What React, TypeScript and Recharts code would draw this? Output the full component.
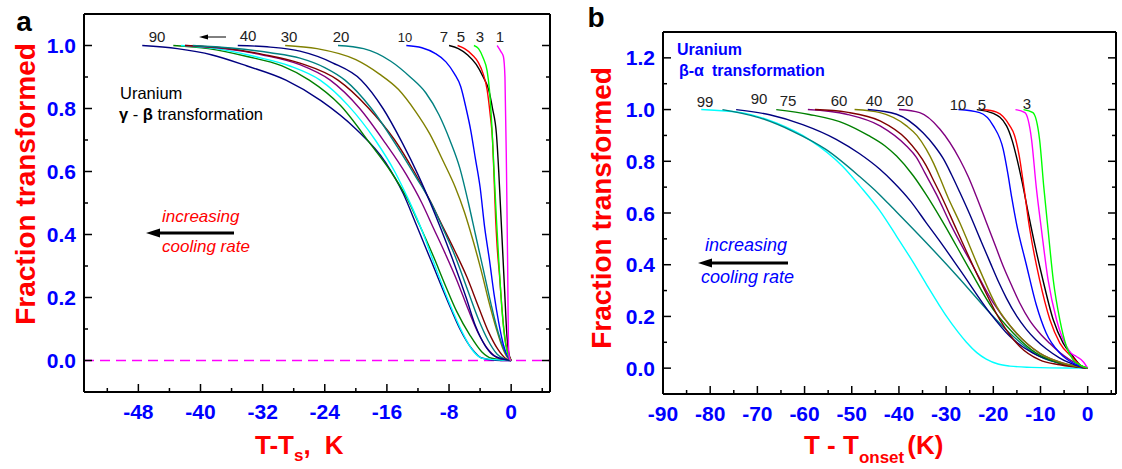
import React from 'react';
import { LineChart, Line, XAxis, YAxis, ReferenceLine } from 'recharts';

type P = [number, number];

// ---------------- Panel a : gamma -> beta ----------------
const aXTicks = [-52, -48, -44, -40, -36, -32, -28, -24, -20, -16, -12, -8, -4, 0, 4];
const aXLabels = [-48, -40, -32, -24, -16, -8, 0];
const aYTicks = [0, 0.1, 0.2, 0.3, 0.4, 0.5, 0.6, 0.7, 0.8, 0.9, 1.0];
const aYLabels = [0, 0.2, 0.4, 0.6, 0.8, 1.0];

const aNavy90: P[] = [[-47.5,1],[-43,0.99],[-38.5,0.97],[-34,0.935],[-29,0.89],[-24.5,0.825],[-20,0.735],[-16.2,0.63],[-13.9,0.53],[-12.2,0.43],[-10.2,0.31],[-8.2,0.19],[-6.6,0.1],[-5,0.035],[-3.8,0.008],[-2,0.001],[0,0]];
const aGreen: P[] = [[-43.5,1],[-39,0.99],[-34,0.965],[-29.5,0.935],[-26,0.89],[-22,0.81],[-18.2,0.69],[-15.5,0.6],[-13.3,0.51],[-11.8,0.43],[-10,0.33],[-8.5,0.24],[-7,0.155],[-5.3,0.08],[-3.8,0.028],[-2.5,0.007],[0,0]];
const aCyan: P[] = [[-42.5,1],[-38,0.99],[-33,0.965],[-28.5,0.935],[-24.6,0.89],[-21,0.81],[-17.5,0.7],[-15,0.6],[-13.2,0.51],[-11.6,0.42],[-9.8,0.3],[-8,0.185],[-6.4,0.095],[-4.9,0.03],[-3.6,0.006],[0,0]];
const aPurple: P[] = [[-42,1],[-37,0.99],[-32,0.97],[-27.2,0.939],[-23.3,0.89],[-19.5,0.8],[-16.2,0.69],[-13.5,0.59],[-11.5,0.5],[-10,0.42],[-8.5,0.34],[-7,0.255],[-5.5,0.16],[-4.2,0.085],[-2.8,0.03],[-1.5,0.006],[0,0]];
const aMaroon: P[] = [[-42,1],[-37,0.992],[-32,0.972],[-27.2,0.944],[-22.3,0.89],[-18.5,0.805],[-15,0.7],[-12.5,0.6],[-10.5,0.51],[-9,0.435],[-7.3,0.35],[-5.7,0.265],[-4.2,0.17],[-2.9,0.09],[-1.7,0.035],[-0.8,0.008],[0,0]];
const aTeal: P[] = [[-41,1],[-36,0.992],[-31,0.977],[-27.2,0.96],[-24,0.93],[-21.4,0.89],[-18,0.8],[-14.7,0.68],[-12.2,0.58],[-10.3,0.5],[-8.8,0.42],[-7.2,0.33],[-5.7,0.23],[-4.2,0.13],[-3,0.065],[-1.8,0.02],[-0.8,0.004],[0,0]];
const aNavy40: P[] = [[-35.2,1],[-31,0.995],[-27.2,0.982],[-23,0.945],[-19.3,0.89],[-16.5,0.8],[-14,0.69],[-12,0.59],[-10.4,0.5],[-9,0.415],[-7.3,0.305],[-5.8,0.2],[-4.6,0.11],[-3.3,0.045],[-2,0.012],[0,0]];
const aOlive30: P[] = [[-29.1,1],[-25,0.99],[-20,0.955],[-17,0.91],[-14.5,0.86],[-12.3,0.79],[-10.5,0.72],[-8.7,0.63],[-7.2,0.55],[-6,0.47],[-4.9,0.38],[-3.8,0.28],[-2.8,0.18],[-1.9,0.1],[-1.1,0.04],[-0.5,0.01],[0,0]];
const aTeal20: P[] = [[-22.3,1],[-19,0.99],[-15.5,0.95],[-13,0.9],[-11,0.85],[-9.3,0.78],[-7.9,0.7],[-6.6,0.61],[-5.5,0.5],[-4.6,0.4],[-3.6,0.29],[-2.6,0.18],[-1.8,0.1],[-1,0.04],[-0.4,0.01],[0,0]];
const aBlue10: P[] = [[-13.5,1],[-11.5,0.993],[-9.8,0.975],[-8.4,0.948],[-7.3,0.91],[-6.5,0.87],[-5.8,0.8],[-5.2,0.73],[-4.6,0.64],[-4,0.55],[-3.4,0.42],[-2.8,0.32],[-2.2,0.21],[-1.6,0.12],[-1,0.05],[-0.5,0.015],[0,0]];
const aBlack7: P[] = [[-8,1],[-6.8,0.99],[-5.6,0.97],[-4.5,0.94],[-3.6,0.9],[-2.9,0.86],[-2.4,0.8],[-1.9,0.72],[-1.6,0.6],[-1.4,0.5],[-1.2,0.4],[-1,0.3],[-0.8,0.2],[-0.6,0.1],[-0.35,0.03],[0,0]];
const aRed5: P[] = [[-6.9,1],[-6,0.99],[-5,0.97],[-4.2,0.945],[-3.6,0.91],[-3.1,0.86],[-2.7,0.78],[-2.4,0.7],[-2.2,0.58],[-2,0.45],[-1.8,0.36],[-1.5,0.27],[-1.2,0.17],[-0.9,0.09],[-0.5,0.03],[0,0]];
const aLime3: P[] = [[-4.8,1],[-4.2,0.99],[-3.6,0.96],[-3.1,0.92],[-2.8,0.86],[-2.5,0.75],[-2.2,0.6],[-1.9,0.45],[-1.6,0.32],[-1.3,0.2],[-1,0.11],[-0.7,0.05],[-0.35,0.015],[0,0]];
const aMagenta1: P[] = [[-1.8,1],[-1.3,0.98],[-1,0.965],[-0.8,0.9],[-0.6,0.6],[-0.45,0.3],[-0.35,0.05],[-0.2,0.005],[0,0]];

const aSeries: { color: string; pts: P[] }[] = [
  { color: '#000080', pts: aNavy90 },
  { color: '#008000', pts: aGreen },
  { color: '#00FFFF', pts: aCyan },
  { color: '#800080', pts: aPurple },
  { color: '#800000', pts: aMaroon },
  { color: '#008080', pts: aTeal },
  { color: '#000080', pts: aNavy40 },
  { color: '#808000', pts: aOlive30 },
  { color: '#008080', pts: aTeal20 },
  { color: '#0000FF', pts: aBlue10 },
  { color: '#000000', pts: aBlack7 },
  { color: '#FF0000', pts: aRed5 },
  { color: '#00FF00', pts: aLime3 },
  { color: '#FF00FF', pts: aMagenta1 },
];

// ---------------- Panel b : beta -> alpha ----------------
const bXTicks = [-85, -80, -75, -70, -65, -60, -55, -50, -45, -40, -35, -30, -25, -20, -15, -10, -5, 0, 5];
const bXLabels = [-90, -80, -70, -60, -50, -40, -30, -20, -10, 0];
const bYTicks = [0, 0.1, 0.2, 0.3, 0.4, 0.5, 0.6, 0.7, 0.8, 0.9, 1.0, 1.1, 1.2];
const bYLabels = [0, 0.2, 0.4, 0.6, 0.8, 1.0, 1.2];

const bCyan99: P[] = [[-81.9,1],[-73.1,0.987],[-66,0.948],[-59,0.884],[-51.9,0.78],[-48.3,0.705],[-44.1,0.61],[-40.5,0.51],[-37,0.41],[-34.2,0.325],[-31.5,0.245],[-29.9,0.2],[-27.5,0.14],[-25.7,0.1],[-23.5,0.06],[-21.5,0.035],[-19,0.016],[-16.5,0.008],[-12,0.003],[-8,0.001],[0,0]];
const bTeal: P[] = [[-77.4,1],[-69.5,0.968],[-62.5,0.916],[-55.4,0.845],[-48.4,0.742],[-44.1,0.671],[-41.2,0.617],[-34.2,0.485],[-27.1,0.345],[-20.7,0.213],[-15.8,0.123],[-10.2,0.045],[-4.5,0.013],[0,0]];
const bNavy90: P[] = [[-74.5,1],[-67.4,0.98],[-60.4,0.942],[-53.3,0.885],[-48.4,0.83],[-44.1,0.77],[-41.2,0.72],[-37.5,0.645],[-34.2,0.562],[-31.5,0.495],[-27.1,0.381],[-20.7,0.213],[-16.5,0.123],[-11.6,0.058],[-5.9,0.019],[0,0]];
const bGreen75: P[] = [[-66,1],[-59,0.981],[-51.5,0.946],[-46.5,0.9],[-43,0.86],[-40.5,0.82],[-37,0.745],[-34.2,0.67],[-30.6,0.562],[-25,0.381],[-20,0.226],[-15.8,0.136],[-10.9,0.058],[-5.9,0.019],[0,0]];
const bPurple60: P[] = [[-59.3,1],[-51.1,0.982],[-44,0.937],[-38.4,0.859],[-36.3,0.815],[-34.5,0.755],[-32,0.67],[-29.2,0.562],[-24.3,0.394],[-20,0.252],[-15.8,0.149],[-10.2,0.058],[-5.2,0.019],[0,0]];
const bMaroon: P[] = [[-57.8,1],[-51.1,0.99],[-44,0.956],[-38.4,0.885],[-34.2,0.782],[-32.5,0.72],[-31,0.665],[-27.8,0.536],[-22.9,0.342],[-18.6,0.187],[-14.4,0.084],[-10.2,0.032],[-5.9,0.013],[0,0]];
const bOlive40: P[] = [[-49.4,1],[-44,0.988],[-38.4,0.937],[-36.2,0.9],[-34.2,0.846],[-32.6,0.79],[-31.3,0.735],[-29.6,0.66],[-27.1,0.562],[-22.9,0.381],[-19.3,0.239],[-15.1,0.136],[-10.2,0.058],[-5.2,0.019],[0,0]];
const bNavy: P[] = [[-46.6,1],[-40.5,0.982],[-34.9,0.91],[-32.5,0.86],[-30.6,0.81],[-28.9,0.75],[-27.1,0.68],[-25,0.595],[-22.8,0.5],[-20.7,0.41],[-18.8,0.33],[-17.2,0.27],[-15,0.2],[-13,0.15],[-11,0.11],[-8.8,0.075],[-6,0.04],[-3.8,0.02],[-1.5,0.005],[0,0]];
const bPurple20: P[] = [[-40,1],[-35.6,0.988],[-31.3,0.924],[-27.1,0.807],[-25.3,0.74],[-23.5,0.66],[-21.5,0.565],[-19.5,0.47],[-17.9,0.394],[-16,0.315],[-14.4,0.252],[-12.3,0.185],[-10.2,0.136],[-8,0.095],[-5.9,0.06],[-4,0.035],[-2.4,0.019],[-1,0.006],[0,0]];
const bBlue10: P[] = [[-27.4,1],[-22.9,0.988],[-20,0.937],[-17.9,0.846],[-16.9,0.75],[-16.1,0.66],[-15.1,0.56],[-13,0.4],[-10.9,0.245],[-8.8,0.136],[-5.9,0.058],[-3.1,0.019],[0,0]];
const bBlack: P[] = [[-23.5,1],[-20,0.985],[-17.2,0.937],[-16,0.88],[-15,0.81],[-13.9,0.72],[-12.6,0.6],[-11,0.46],[-9.5,0.342],[-7.3,0.187],[-5.2,0.097],[-3.1,0.045],[-1.5,0.01],[0,0]];
const bRed5: P[] = [[-22.3,1],[-19.3,0.99],[-16.5,0.937],[-15.5,0.9],[-14.5,0.82],[-13.6,0.71],[-12.3,0.54],[-10.2,0.342],[-8,0.187],[-5.9,0.097],[-3.1,0.039],[-1.5,0.01],[0,0]];
const bMagenta: P[] = [[-15.3,1],[-13.3,0.988],[-11.9,0.885],[-10.9,0.7],[-9.8,0.536],[-8.4,0.342],[-6.6,0.187],[-4.5,0.084],[-3.5,0.058],[-2.4,0.045],[-1,0.026],[0,0]];
const bLime3: P[] = [[-13.6,1],[-11.6,0.988],[-10.2,0.885],[-9.3,0.7],[-8.4,0.536],[-7.3,0.342],[-5.9,0.187],[-4.5,0.084],[-3.1,0.032],[-1.7,0.013],[0,0]];

const bSeries: { color: string; pts: P[] }[] = [
  { color: '#00FFFF', pts: bCyan99 },
  { color: '#008080', pts: bTeal },
  { color: '#000080', pts: bNavy90 },
  { color: '#008000', pts: bGreen75 },
  { color: '#800080', pts: bPurple60 },
  { color: '#800000', pts: bMaroon },
  { color: '#808000', pts: bOlive40 },
  { color: '#000080', pts: bNavy },
  { color: '#800080', pts: bPurple20 },
  { color: '#0000FF', pts: bBlue10 },
  { color: '#000000', pts: bBlack },
  { color: '#FF0000', pts: bRed5 },
  { color: '#FF00FF', pts: bMagenta },
  { color: '#00FF00', pts: bLime3 },
];

// cooling-rate annotations (text labels)
const aRateLabels: { t: string; x: number; y: number; fs: number }[] = [
  { t: '90', x: 157, y: 36, fs: 15 },
  { t: '40', x: 248, y: 35, fs: 15 },
  { t: '30', x: 289, y: 36, fs: 15 },
  { t: '20', x: 341, y: 36, fs: 15 },
  { t: '10', x: 405, y: 37, fs: 13 },
  { t: '7', x: 444, y: 36, fs: 15 },
  { t: '5', x: 461, y: 36, fs: 15 },
  { t: '3', x: 480, y: 36, fs: 15 },
  { t: '1', x: 500, y: 36, fs: 15 },
];
const bRateLabels: { t: string; x: number; y: number; fs: number }[] = [
  { t: '99', x: 705, y: 101, fs: 15 },
  { t: '90', x: 759, y: 98, fs: 15 },
  { t: '75', x: 788, y: 100, fs: 15 },
  { t: '60', x: 839, y: 100, fs: 15 },
  { t: '40', x: 874, y: 100, fs: 15 },
  { t: '20', x: 905, y: 100, fs: 15 },
  { t: '10', x: 958, y: 104, fs: 15 },
  { t: '5', x: 982, y: 104, fs: 15 },
  { t: '3', x: 1027, y: 103, fs: 15 },
];

const FONT = '"Liberation Sans", Arial, Helvetica, sans-serif';
const TICKBLUE = '#0000FF';

const toData = (pts: P[]) => pts.map(([x, y]) => ({ x, y }));
const isIn = (arr: number[], v: number) => arr.some((a) => Math.abs(a - v) < 1e-6);

const bottomTick = (labels: number[]) => (props: any) => {
  const { x, y, payload } = props;
  const v = payload.value;
  const major = isIn(labels, v);
  return (
    <g>
      <line x1={x} x2={x} y1={y} y2={y - (major ? 8 : 4)} stroke="#000" strokeWidth={1.5} />
      {major && (
        <text x={x} y={y + 19} textAnchor="middle" dominantBaseline="central" fill={TICKBLUE} fontFamily={FONT} fontWeight="bold" fontSize={21}>
          {String(v)}
        </text>
      )}
    </g>
  );
};
const topTick = (labels: number[]) => (props: any) => {
  const { x, y, payload } = props;
  const major = isIn(labels, payload.value);
  return <line x1={x} x2={x} y1={y} y2={y + (major ? 8 : 4)} stroke="#000" strokeWidth={1.5} />;
};
const leftTick = (labels: number[]) => (props: any) => {
  const { x, y, payload } = props;
  const v = payload.value;
  const major = isIn(labels, v);
  return (
    <g>
      <line x1={x} x2={x + (major ? 8 : 4)} y1={y} y2={y} stroke="#000" strokeWidth={1.5} />
      {major && (
        <text x={x - 8} y={y} textAnchor="end" dominantBaseline="central" fill={TICKBLUE} fontFamily={FONT} fontWeight="bold" fontSize={21}>
          {v.toFixed(1)}
        </text>
      )}
    </g>
  );
};
const rightTick = (labels: number[]) => (props: any) => {
  const { x, y, payload } = props;
  const major = isIn(labels, payload.value);
  return <line x1={x} x2={x - (major ? 8 : 4)} y1={y} y2={y} stroke="#000" strokeWidth={1.5} />;
};

const axisLine = { stroke: '#000', strokeWidth: 2 };

function Panel(props: {
  width: number;
  margin: any;
  leftW: number;
  rightW: number;
  bottomH: number;
  xDomain: [number, number];
  yDomain: [number, number];
  xTicks: number[];
  xLabels: number[];
  yTicks: number[];
  yLabels: number[];
  series: { color: string; pts: P[] }[];
  zeroLine?: boolean;
}) {
  const { width, margin, leftW, rightW, bottomH, xDomain, yDomain, xTicks, xLabels, yTicks, yLabels, series, zeroLine } = props;
  const allX = Array.from(new Set([...xTicks, ...xLabels])).sort((a, b) => a - b);
  return (
    <LineChart width={width} height={469} margin={margin}>
      <XAxis xAxisId={0} dataKey="x" type="number" domain={xDomain} allowDataOverflow ticks={allX} interval={0}
        tickSize={0} tickMargin={0} tickLine={false} axisLine={axisLine} height={bottomH} tick={bottomTick(xLabels)} />
      <XAxis xAxisId="top" orientation="top" type="number" domain={xDomain} allowDataOverflow ticks={allX} interval={0}
        tickSize={0} tickMargin={0} tickLine={false} axisLine={axisLine} height={1} tick={topTick(xLabels)} />
      <YAxis yAxisId={0} type="number" domain={yDomain} allowDataOverflow ticks={yTicks} interval={0}
        tickSize={0} tickMargin={0} tickLine={false} axisLine={axisLine} width={leftW} tick={leftTick(yLabels)} />
      <YAxis yAxisId="right" orientation="right" type="number" domain={yDomain} allowDataOverflow ticks={yTicks} interval={0}
        tickSize={0} tickMargin={0} tickLine={false} axisLine={axisLine} width={rightW} tick={rightTick(yLabels)} />
      {zeroLine && <ReferenceLine y={0} stroke="#FF00FF" strokeWidth={1.5} strokeDasharray="10 6" />}
      {series.map((s, i) => (
        <Line key={i} data={toData(s.pts)} dataKey="y" type="monotone" stroke={s.color} strokeWidth={1.4}
          dot={false} isAnimationActive={false} />
      ))}
    </LineChart>
  );
}

function Overlay() {
  const red = '#FF0000';
  return (
    <svg width={1122} height={469} style={{ position: 'absolute', left: 0, top: 0, pointerEvents: 'none' }}>
      <text x={24} y={21} textAnchor="middle" dominantBaseline="central" fontFamily={FONT} fontWeight="bold" fontSize={28} fill="#000">a</text>
      <text x={596} y={17} textAnchor="middle" dominantBaseline="central" fontFamily={FONT} fontWeight="bold" fontSize={28} fill="#000">b</text>

      <text transform="translate(25,184) rotate(-90)" textAnchor="middle" dominantBaseline="central" fontFamily={FONT} fontWeight="bold" fontSize={28} fill={red}>Fraction transformed</text>
      <text transform="translate(601,208) rotate(-90)" textAnchor="middle" dominantBaseline="central" fontFamily={FONT} fontWeight="bold" fontSize={28} fill={red}>Fraction transformed</text>
      <text x={255} y={454} fontFamily={FONT} fontWeight="bold" fontSize={26} fill={red}>
        T-T<tspan dy={7} fontSize={17}>s</tspan><tspan dy={-7}>,</tspan><tspan dx={14}>K</tspan>
      </text>
      <text x={804} y={454} fontFamily={FONT} fontWeight="bold" fontSize={26} fill={red}>
        T - T<tspan dy={9} fontSize={17}>onset</tspan><tspan dy={-9} dx={3}>(K)</tspan>
      </text>

      {aRateLabels.map((l, i) => (
        <text key={'a' + i} x={l.x} y={l.y} textAnchor="middle" dominantBaseline="central" fontFamily={FONT} fontSize={l.fs} fill="#222">{l.t}</text>
      ))}
      <line x1={207} x2={226} y1={37} y2={37} stroke="#000" strokeWidth={1} />
      <path d="M199,37 L208,34.5 L208,39.5 Z" fill="#000" />
      <text x={120} y={93} dominantBaseline="central" fontFamily={FONT} fontSize={16.5} fill="#000">Uranium</text>
      <text x={119} y={114} dominantBaseline="central" fontFamily={FONT} fontSize={16.5} fill="#000">
        <tspan fontWeight="bold">γ</tspan> - <tspan fontWeight="bold">β</tspan> transformation
      </text>
      <text x={162} y={216} dominantBaseline="central" fontFamily={FONT} fontStyle="italic" fontSize={17} fill={red}>increasing</text>
      <line x1={158} x2={234} y1={233} y2={233} stroke="#000" strokeWidth={3} />
      <path d="M146,233 L160,228.5 L160,237.5 Z" fill="#000" />
      <text x={162} y={246} dominantBaseline="central" fontFamily={FONT} fontStyle="italic" fontSize={17} fill={red}>cooling rate</text>

      <text x={677} y={49} dominantBaseline="central" fontFamily={FONT} fontWeight="bold" fontSize={16} fill="#0000FF">Uranium</text>
      <text x={679} y={70} dominantBaseline="central" fontFamily={FONT} fontWeight="bold" fontSize={16} fill="#0000FF">β-α<tspan dx={8}>transformation</tspan></text>
      {bRateLabels.map((l, i) => (
        <text key={'b' + i} x={l.x} y={l.y} textAnchor="middle" dominantBaseline="central" fontFamily={FONT} fontSize={l.fs} fill="#222">{l.t}</text>
      ))}
      <text x={705} y={245} dominantBaseline="central" fontFamily={FONT} fontStyle="italic" fontSize={18} fill="#0000FF">increasing</text>
      <line x1={710} x2={788} y1={263} y2={263} stroke="#000" strokeWidth={3} />
      <path d="M698,263 L712,258.5 L712,267.5 Z" fill="#000" />
      <text x={701} y={277} dominantBaseline="central" fontFamily={FONT} fontStyle="italic" fontSize={18} fill="#0000FF">cooling rate</text>
    </svg>
  );
}

export default function App() {
  return (
    <div style={{ position: 'absolute', left: 0, top: 0, width: 1122, height: 469, background: '#fff', overflow: 'hidden' }}>
      <div style={{ position: 'absolute', left: 0, top: 0 }}>
        <Panel width={560} margin={{ top: 13, right: 0, bottom: 0, left: 0 }} leftW={84} rightW={10} bottomH={77}
          xDomain={[-55, 5]} yDomain={[-0.1, 1.1]} xTicks={aXTicks} xLabels={aXLabels} yTicks={aYTicks} yLabels={aYLabels}
          series={aSeries} zeroLine />
      </div>
      <div style={{ position: 'absolute', left: 570, top: 0 }}>
        <Panel width={552} margin={{ top: 31, right: 0, bottom: 0, left: 0 }} leftW={93} rightW={6} bottomH={75}
          xDomain={[-90, 6]} yDomain={[-0.1, 1.3]} xTicks={bXTicks} xLabels={bXLabels} yTicks={bYTicks} yLabels={bYLabels}
          series={bSeries} />
      </div>
      <Overlay />
    </div>
  );
}
